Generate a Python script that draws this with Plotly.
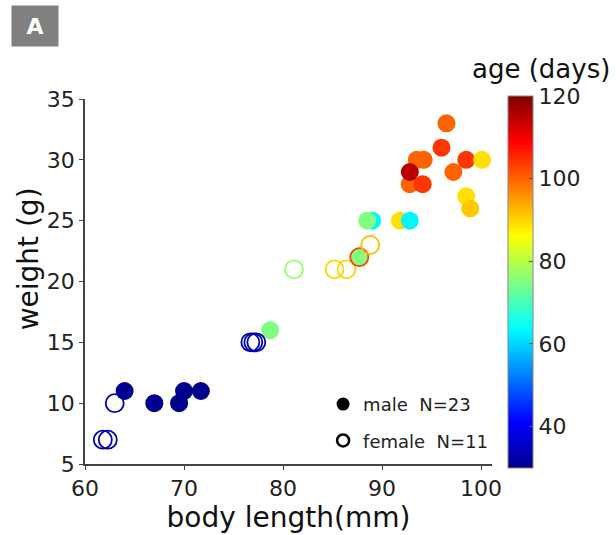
import plotly.graph_objects as go

# Male mice: body length (mm), weight (g), age (days)
male_length = [64.0, 67.0, 69.5, 70.0, 71.7, 78.7, 87.6, 89.0, 88.5, 91.8, 92.8,
               96.5, 96.0, 98.5, 100.1, 97.2, 93.5, 94.2, 92.8, 92.8, 94.1, 98.5, 98.9]
male_weight = [11, 10, 10, 11, 11, 16, 22, 25, 25, 25, 25,
               33, 31, 30, 30, 29, 30, 30, 28, 29, 28, 27, 26]
male_age = [30, 30, 30, 30, 30, 75, 75, 63, 75, 89, 63,
            100, 104, 104, 89, 100, 100, 100, 100, 115, 104, 89, 91]

# Female mice
female_length = [61.8, 62.3, 63.0, 76.7, 77.0, 77.3, 81.1, 85.2, 86.4, 87.7, 88.8]
female_weight = [7, 7, 10, 15, 15, 15, 21, 21, 21, 22, 23]
female_age = [33, 33, 33, 33, 33, 33, 77, 90, 90, 103, 92]

x_ticks = [60, 70, 80, 90, 100]
y_ticks = [5, 10, 15, 20, 25, 30, 35]
cbar_ticks = [40, 60, 80, 100, 120]

AGE_MIN, AGE_MAX = 30, 120

# MATLAB-style jet colormap
jet = [
    [0.0, "rgb(0,0,143)"],
    [0.125, "rgb(0,0,255)"],
    [0.375, "rgb(0,255,255)"],
    [0.625, "rgb(255,255,0)"],
    [0.875, "rgb(255,0,0)"],
    [1.0, "rgb(128,0,0)"],
]

FONT = "DejaVu Sans, sans-serif"

fig = go.Figure()

fig.add_trace(go.Scatter(
    x=male_length, y=male_weight, mode="markers", showlegend=False,
    marker=dict(
        size=18, symbol="circle", color=male_age, colorscale=jet,
        cmin=AGE_MIN, cmax=AGE_MAX, line=dict(width=0),
        showscale=True,
        colorbar=dict(
            x=(508 - 85) / 407, xanchor="left", xpad=0,
            y=(470 - 285) / 371, yanchor="middle", ypad=0,
            lenmode="pixels", len=372, thickness=25,
            tickvals=cbar_ticks, ticks="inside", ticklen=4, tickcolor="#555",
            tickfont=dict(family=FONT, size=22, color="#222"),
            outlinewidth=1, outlinecolor="#888",
        ),
    ),
))

fig.add_trace(go.Scatter(
    x=female_length, y=female_weight, mode="markers", showlegend=False,
    marker=dict(
        size=18, symbol="circle-open", color=female_age, colorscale=jet,
        cmin=AGE_MIN, cmax=AGE_MAX, line=dict(width=1.8), showscale=False,
    ),
))

# Legend entries
fig.add_trace(go.Scatter(
    x=[None], y=[None], mode="markers", name="male  N=23", legendgroup="m",
    marker=dict(size=13, color="black", symbol="circle"),
))
fig.add_trace(go.Scatter(
    x=[None], y=[None], mode="markers", name="female  N=11", legendgroup="f",
    marker=dict(size=12, color="black", symbol="circle-open", line=dict(width=2.5)),
))

axis_common = dict(
    showline=True, linecolor="#444", linewidth=1.5, mirror=False,
    ticks="outside", ticklen=4, tickcolor="#444", showgrid=False, zeroline=False,
    tickfont=dict(family=FONT, size=22, color="#222"),
)

fig.update_layout(
    width=616, height=535,
    margin=dict(l=85, r=124, t=99, b=65),
    paper_bgcolor="white", plot_bgcolor="white",
    xaxis=dict(range=[60, 101.1], tickvals=x_ticks,
               title=dict(text="body length(mm)", standoff=2,
                          font=dict(family=FONT, size=28, color="#111")),
               **axis_common),
    yaxis=dict(range=[5, 35], tickvals=y_ticks, **axis_common),
    legend=dict(
        x=0.585, y=0.214, xanchor="left", yanchor="top",
        bgcolor="rgba(0,0,0,0)", tracegroupgap=10, itemsizing="trace",
        font=dict(family=FONT, size=18, color="#222"),
    ),
    annotations=[
        dict(text="weight (g)", xref="paper", yref="paper", textangle=-90,
             x=(28 - 85) / 407, y=(470 - 262) / 371, xanchor="center", yanchor="middle",
             showarrow=False,
             font=dict(family=FONT, size=28, color="#111")),
        dict(text="age (days)", xref="paper", yref="paper",
             x=(541 - 85) / 407, y=(470 - 68) / 371, xanchor="center", yanchor="middle",
             showarrow=False,
             font=dict(family=FONT, size=26, color="#111")),
        dict(text="<b>A</b>", xref="paper", yref="paper",
             x=(35 - 85) / 407, y=(470 - 25) / 371, xanchor="center", yanchor="middle",
             showarrow=False, width=44, height=38, bgcolor="#808080",
             font=dict(family=FONT, size=22, color="white")),
    ],
)

fig.write_html("out.html")
